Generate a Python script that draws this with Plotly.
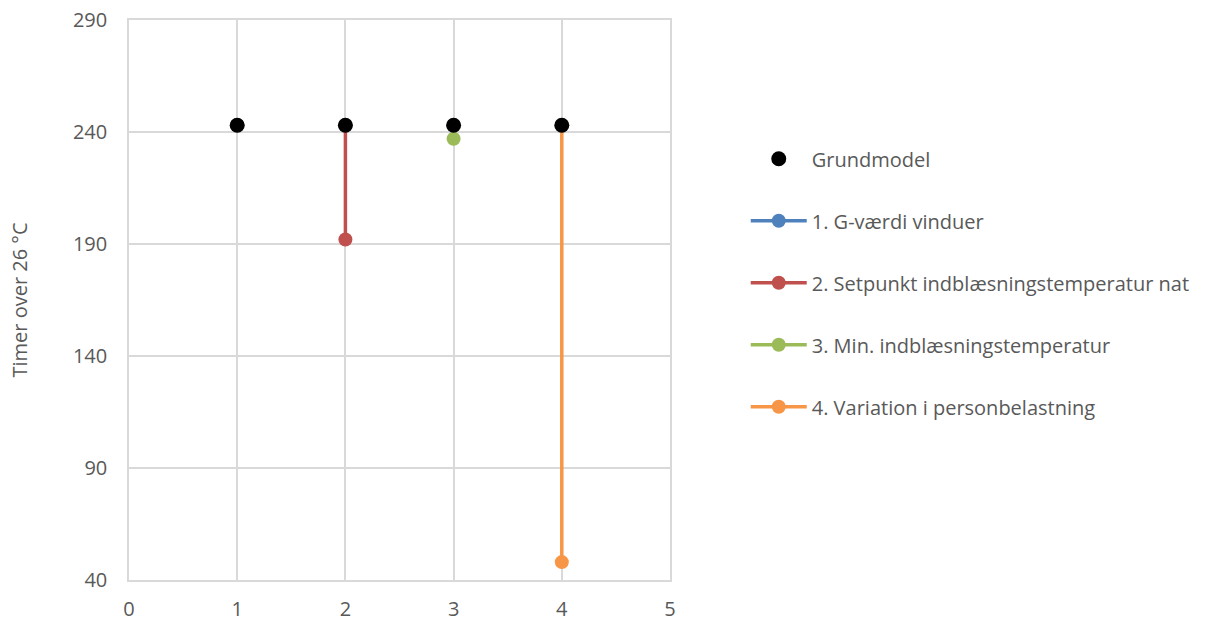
import plotly.graph_objects as go

# Data
scenarios = [1, 2, 3, 4]
grundmodel = [243, 243, 243, 243]
series_names = ["1. G-værdi vinduer", "2. Setpunkt indblæsningstemperatur nat",
                "3. Min. indblæsningstemperatur", "4. Variation i personbelastning"]
series_values = [243, 192, 237, 48]
series_colors = ["#4F81BD", "#C0504D", "#9BBB59", "#F79646"]

fig = go.Figure()

for i, (name, val, col) in enumerate(zip(series_names, series_values, series_colors)):
    x = scenarios[i]
    fig.add_trace(go.Scatter(
        x=[x, x], y=[grundmodel[i], val], mode="lines+markers", name=name,
        line=dict(color=col, width=3.5), marker=dict(color=col, size=14),
        legendgroup=f"g{i+1}", legendrank=i + 2,
    ))

fig.add_trace(go.Scatter(
    x=scenarios, y=grundmodel, mode="markers", name="Grundmodel",
    marker=dict(color="black", size=15), legendgroup="g0", legendrank=1,
))

axis_font = dict(family="Open Sans, sans-serif", size=20, color="#595959")

fig.update_layout(
    width=1219, height=625,
    margin=dict(l=129, r=549, t=20, b=45, autoexpand=False),
    plot_bgcolor="white", paper_bgcolor="white",
    font=axis_font,
    showlegend=True,
    legend=dict(x=1.14, y=0.787, xanchor="left", yanchor="top",
                font=dict(family="Open Sans, sans-serif", size=20, color="#595959"),
                tracegroupgap=33, itemwidth=56, bgcolor="rgba(0,0,0,0)"),
    xaxis=dict(range=[0, 5], dtick=1, tick0=0, showgrid=True, gridcolor="#D9D9D9",
               gridwidth=1.5, zeroline=False, showline=True, linecolor="#D9D9D9",
               linewidth=1.5, mirror=True, ticks="", tickfont=axis_font,
               ticklabelstandoff=10, automargin=False, ticklabeloverflow="allow"),
    yaxis=dict(range=[40, 290], dtick=50, tick0=40, showgrid=True, gridcolor="#D9D9D9",
               gridwidth=1.5, zeroline=False, showline=True, linecolor="#D9D9D9",
               linewidth=1.5, mirror=True, ticks="", tickfont=axis_font,
               ticklabelstandoff=16, automargin=False, ticklabeloverflow="allow",
               title=dict(text="Timer over 26 °C", font=axis_font, standoff=40)),
)

# remove the default 8px page margin so the figure fills the window exactly
fig.write_html("out.html", config={"displayModeBar": False},
               post_script="document.body.style.margin='0px';")
